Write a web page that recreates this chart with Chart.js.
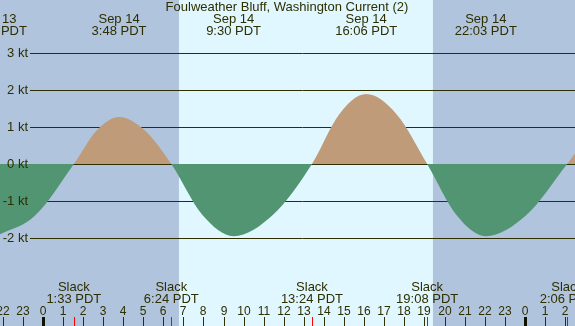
<!DOCTYPE html>
<html>
<head>
<meta charset="utf-8">
<script src="https://cdn.jsdelivr.net/npm/chart.js@4.4.1/dist/chart.umd.min.js"></script>
<style>
    html, body { margin: 0; padding: 0; background: #b0c4de; }
    #wrap { width: 575px; height: 326px; position: relative; }
</style>
</head>
<body>
<div id="wrap"><canvas id="tideChart" width="575" height="326"></canvas></div>
<script>
// hours from Sep 14 00:00 PDT, knots (slacks, maxima and a point between each)
const curveHours = [-2.33, -0.39, 1.55, 2.675, 3.8, 5.1, 6.4, 7.95, 9.5, 11.45, 13.4,
                    14.75, 16.1, 17.62, 19.133, 20.59, 22.05, 24.075, 26.1, 27.45, 28.8];
const curveKnots = [-1.95, -1.4, 0, 0.9, 1.27, 0.9, 0, -1.38, -1.95, -1.38, 0,
                    1.34, 1.89, 1.34, 0, -1.38, -1.95, -1.38, 0, 0.92, 1.3];

const peakHours = [-2.33, 3.8, 9.5, 16.1, 22.05];
const peakDays = ['Sep 13', 'Sep 14', 'Sep 14', 'Sep 14', 'Sep 14'];
const peakTimes = ['21:40 PDT', '3:48 PDT', '9:30 PDT', '16:06 PDT', '22:03 PDT'];

const slackHours = [1.55, 6.4, 13.4, 19.133, 26.1];
const slackTimes = ['1:33 PDT', '6:24 PDT', '13:24 PDT', '19:08 PDT', '2:06 PDT'];

const hourTicks = [-2, -1, 0, 1, 2, 3, 4, 5, 6, 7, 8, 9, 10, 11, 12, 13, 14, 15, 16, 17, 18, 19, 20, 21, 22, 23, 24, 25, 26];
const hourNames = ['22', '23', '0', '1', '2', '3', '4', '5', '6', '7', '8', '9', '10', '11', '12', '13', '14', '15', '16', '17', '18', '19', '20', '21', '22', '23', '0', '1', '2'];
const midnightHours = [0, 24];

const ktTicks = [3, 2, 1, 0, -1, -2];
const ktNames = ['3 kt', '2 kt', '1 kt', '0 kt', '-1 kt', '-2 kt'];

const sunrise = 6.78;
const sunset = 19.42;

const TXT = '#2e2e00';
const FONT = '13px "Liberation Sans", Arial, sans-serif';
const FONT_HR = '12px "Liberation Sans", Arial, sans-serif';

const decor = {
    id: 'decor',
    beforeDraw(chart) {
        const { ctx, chartArea: a, scales: { x } } = chart;
        ctx.save();
        ctx.fillStyle = '#b0c4de';
        ctx.fillRect(a.left, a.top, a.right - a.left, a.bottom - a.top);
        const x1 = x.getPixelForValue(sunrise), x2 = x.getPixelForValue(sunset);
        ctx.fillStyle = '#e0f7ff';
        ctx.fillRect(x1, a.top, x2 - x1, a.bottom - a.top);
        ctx.restore();
    },
    beforeDatasetsDraw(chart) {
        const { ctx, chartArea: a, scales: { y } } = chart;
        ctx.save();
        ctx.strokeStyle = TXT;
        ctx.lineWidth = 1;
        ktTicks.forEach(v => {
            const py = Math.round(y.getPixelForValue(v)) + 0.5;
            ctx.beginPath();
            ctx.moveTo(30, py);
            ctx.lineTo(a.right, py);
            ctx.stroke();
        });
        ctx.restore();
    },
    afterDatasetsDraw(chart) {
        const { ctx, chartArea: a, scales: { x, y } } = chart;
        ctx.save();
        ctx.fillStyle = TXT;
        ctx.font = FONT;
        ctx.textBaseline = 'middle';

        // kt labels sit on top of the fill
        ctx.textAlign = 'right';
        ktTicks.forEach((v, i) => {
            ctx.fillText(ktNames[i], 28, Math.round(y.getPixelForValue(v)) + 0.5);
        });

        ctx.textAlign = 'center';
        ctx.fillText('Foulweather Bluff, Washington Current (2)', 287, 7);

        peakHours.forEach((h, i) => {
            const px = x.getPixelForValue(h);
            ctx.fillText(peakDays[i], px, 19);
            ctx.fillText(peakTimes[i], px, 31);
        });

        slackHours.forEach((h, i) => {
            const px = x.getPixelForValue(h);
            ctx.fillText('Slack', px, 287);
            ctx.fillText(slackTimes[i], px, 299);
        });

        ctx.font = FONT_HR;
        hourTicks.forEach((h, i) => {
            const px = Math.round(x.getPixelForValue(h));
            ctx.fillText(hourNames[i], px, 312);
            ctx.fillRect(px, 317, 1, a.bottom - 317);
        });

        ctx.fillStyle = '#111100';
        midnightHours.forEach(h => {
            const px = Math.round(x.getPixelForValue(h));
            ctx.fillRect(px - 1, 317, 3, a.bottom - 317);
        });

        ctx.fillStyle = '#ff0000';
        slackHours.forEach(h => {
            const px = Math.round(x.getPixelForValue(h));
            ctx.fillRect(px, 317, 1, a.bottom - 317);
        });
        ctx.restore();
    }
};

new Chart(document.getElementById('tideChart'), {
    type: 'line',
    data: {
        datasets: [{
            data: curveHours.map((h, i) => ({ x: h, y: curveKnots[i] })),
            borderColor: 'transparent',
            borderWidth: 0,
            pointRadius: 0,
            cubicInterpolationMode: 'monotone',
            fill: { target: 'origin', above: '#bf9b7a', below: '#529572' }
        }]
    },
    options: {
        responsive: false,
        animation: false,
        events: [],
        layout: { padding: 0 },
        plugins: { legend: { display: false }, tooltip: { enabled: false }, title: { display: false } },
        scales: {
            x: { type: 'linear', min: -2.125, max: 26.49, display: false },
            y: { min: -4.378, max: 4.432, display: false }
        }
    },
    plugins: [decor]
});
</script>
</body>
</html>
